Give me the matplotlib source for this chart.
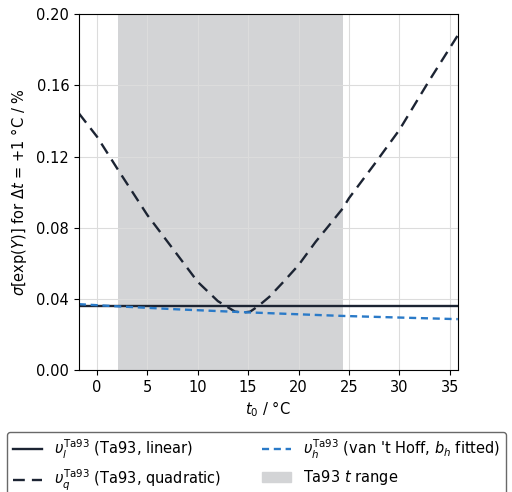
import matplotlib
import matplotlib.pyplot as plt
import numpy as np

matplotlib.use('Agg')

# values
t_lin = [-1.8, 35.8]
sigma_lin = [0.0364, 0.0364]

t_quad = [-1.8, 0.0, 2.1, 5.0, 7.5, 10.0, 12.0, 13.7, 14.5, 15.2, 16.0, 17.1, 18.5,
          20.0, 21.7, 23.0, 24.4, 25.0, 27.5, 30.0, 32.9, 35.8]
sigma_quad = [0.1443, 0.1312, 0.1125, 0.0872, 0.0685, 0.0497, 0.0389, 0.0330, 0.0325,
              0.0330, 0.0361, 0.0413, 0.0497, 0.0591, 0.0722, 0.0812, 0.0910, 0.0966,
              0.1155, 0.1349, 0.1620, 0.1880]

t_vh = [-1.8, 2.0, 8.0, 15.0, 22.0, 24.4, 30.0, 35.8]
sigma_vh = [0.0372, 0.0360, 0.0343, 0.0326, 0.0311, 0.0306, 0.0297, 0.0288]

ta93_range = [2.1, 24.4]

x_lim = [-1.8, 35.8]
y_lim = [0.0, 0.20]
y_ticks = [0.00, 0.04, 0.08, 0.12, 0.16, 0.20]
x_ticks = [0, 5, 10, 15, 20, 25, 30, 35]

plt.rcParams['font.size'] = 10.5

fig = plt.figure(figsize=(5.12, 4.92), dpi=100)
ax = fig.add_axes([0.154, 0.247, 0.740, 0.7245])

navy = '#1c2433'
blue = '#2a7ac8'
shade = '#d3d4d6'

ax.axvspan(ta93_range[0], ta93_range[1], color=shade, lw=0, zorder=0)
h_lin, = ax.plot(t_lin, sigma_lin, color=navy, lw=1.7,
                 label=r'$\upsilon_l^{\mathrm{Ta93}}$ (Ta93, linear)')
h_quad, = ax.plot(t_quad, sigma_quad, color=navy, lw=1.7, ls=(0, (5, 3)),
                  label=r'$\upsilon_q^{\mathrm{Ta93}}$ (Ta93, quadratic)')
h_vh, = ax.plot(t_vh, sigma_vh, color=blue, lw=1.7, ls=(0, (3, 2)),
                label=r"$\upsilon_h^{\mathrm{Ta93}}$ (van 't Hoff, $b_h$ fitted)")

ax.set_xlim(x_lim)
ax.set_ylim(y_lim)
ax.set_xticks(x_ticks)
ax.set_yticks(y_ticks)
ax.set_yticklabels([f'{v:.2f}' for v in y_ticks])
ax.grid(True, color='#dcdcdc', lw=0.8)
ax.set_xlabel(r'$t_0$ / °C', labelpad=3)
ax.set_ylabel(r'$\sigma[\exp(Y)]$ for $\Delta t$ = +1 °C / %', labelpad=5)

span_handle = matplotlib.patches.Patch(color=shade, label=r'Ta93 $t$ range')
fig.legend(handles=[h_lin, h_quad, h_vh, span_handle], ncol=2,
           loc='upper left', bbox_to_anchor=(0.0137, 0.1226),
           frameon=True, edgecolor='#444444', fancybox=True,
           borderaxespad=0.0, columnspacing=2.8)

fig.savefig('out.png', dpi=100)
